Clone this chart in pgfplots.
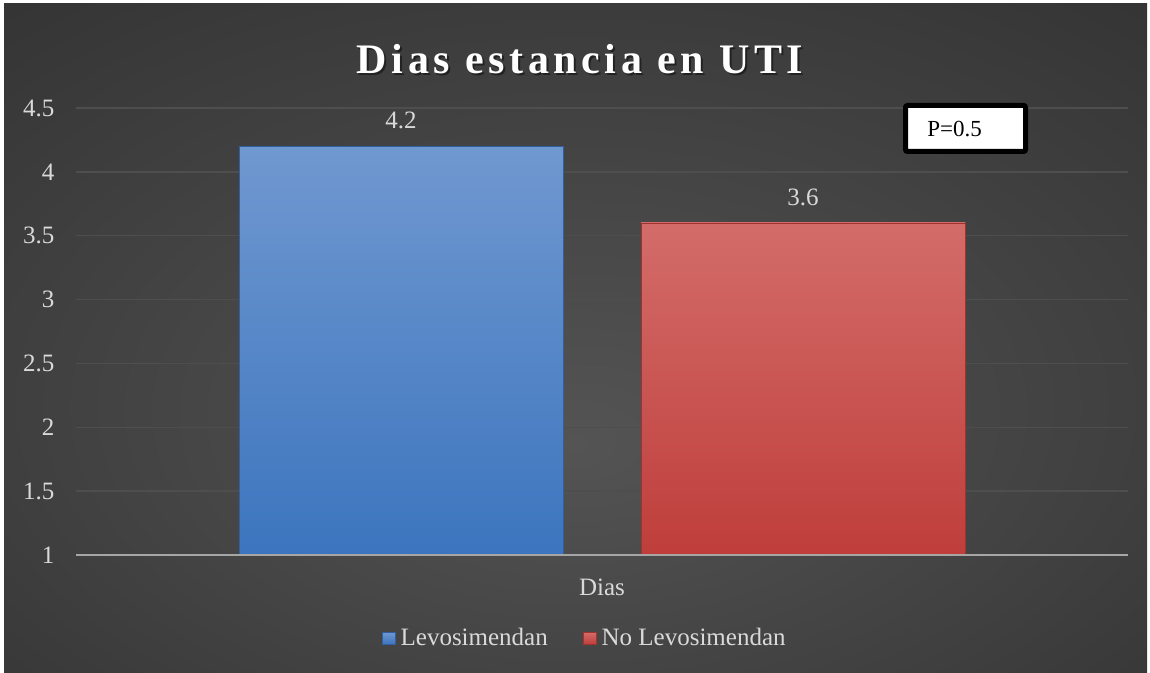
\documentclass[border=0pt]{standalone}
\usepackage{pgfplots}
\pgfplotsset{compat=1.18}
\usepackage{fontspec}
\setmainfont{Liberation Serif}
\newfontfamily\titlefont[LetterSpace=11]{Liberation Serif}
\definecolor{bgin}{RGB}{84,84,84}
\definecolor{bgout}{RGB}{38,38,38}
\definecolor{gridc}{RGB}{78,78,78}
\definecolor{axisc}{RGB}{166,166,166}
\definecolor{labc}{RGB}{217,217,217}
\definecolor{bluetop}{RGB}{112,152,208}
\definecolor{bluebot}{RGB}{60,117,190}
\definecolor{blueedge}{RGB}{50,95,160}
\definecolor{redtop}{RGB}{211,108,105}
\definecolor{redbot}{RGB}{191,62,59}
\definecolor{rededge}{RGB}{160,50,48}
\pgfdeclareradialshading{bgshade}{\pgfpoint{0bp}{-8bp}}{color(0bp)=(bgin); color(55bp)=(bgout); color(60bp)=(bgout)}
\begin{document}
\begin{tikzpicture}[x=1pt,y=1pt]
\fill[white] (0,0) rectangle (575,336.5);
\shade[shading=bgshade] (2,0) rectangle (573.5,334.5);
\node[font=\titlefont\bfseries\fontsize{21}{25}\selectfont, text=black, opacity=0.45] at (291,305.8) {Dias estancia en UTI};
\node[font=\titlefont\bfseries\fontsize{21}{25}\selectfont, text=white] at (290,307) {Dias estancia en UTI};
\begin{axis}[
  at={(38pt,59pt)}, anchor=south west,
  scale only axis, width=526pt, height=223.5pt,
  xmin=-2.617, xmax=2.617, ymin=1, ymax=4.5,
  ytick={1,1.5,2,2.5,3,3.5,4,4.5},
  xtick=\empty,
  axis line style={draw=none},
  major tick length=0pt,
  ymajorgrids, grid style={draw=gridc, line width=0.75pt},
  /pgf/number format/assume math mode=true,
  yticklabel style={font=\fontsize{12.5}{14}\selectfont, text=labc, anchor=east, xshift=-7.3pt},
  nodes near coords,
  every node near coord/.append style={font=\fontsize{12.5}{14}\selectfont, text=labc, anchor=center, yshift=13pt},
  legend style={at={(0.485,-0.186)}, anchor=center, draw=none, fill=none,
    font=\fontsize{12.5}{14}\selectfont, text=labc, legend columns=2,
    nodes={inner xsep=2.5pt},
    /tikz/every even column/.append style={column sep=15pt}},
  legend image code/.code={\path[#1] (0pt,-3pt) rectangle (6.5pt,3pt);},
  clip=false,
]
\addplot[ybar, bar shift=0pt, bar width=162pt, top color=bluetop, bottom color=bluebot, draw=blueedge, line width=0.4pt] coordinates {(-1,4.2)};
\addlegendentry{Levosimendan}
\addplot[ybar, bar shift=0pt, bar width=162pt, top color=redtop, bottom color=redbot, draw=rededge, line width=0.4pt] coordinates {(1,3.6)};
\addlegendentry{No Levosimendan}
\draw[axisc, line width=1.3pt] (axis cs:-2.617,1) -- (axis cs:2.617,1);
\end{axis}
\node[font=\fontsize{12.5}{14}\selectfont, text=labc] at (301,43) {Dias};
\draw[black, line width=2.5pt, fill=white, rounded corners=1pt] (452.75,260.75) rectangle (512.75,283.75);
\node[font=\fontsize{11.5}{14}\selectfont, text=black, anchor=west, inner sep=0pt] at (463.5,272) {P=0.5};
\end{tikzpicture}
\end{document}
